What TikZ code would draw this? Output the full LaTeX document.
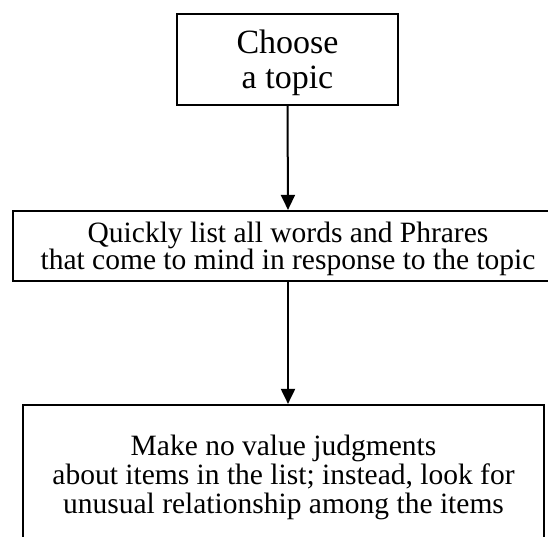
\documentclass[tikz,border=0pt]{standalone}
\usepackage{fontspec}
\setmainfont{Liberation Serif}
\usetikzlibrary{arrows.meta}

\begin{document}
\begin{tikzpicture}[x=1pt,y=-1pt,
		stepbox/.style={draw, line width=2.2pt, align=center, inner sep=0pt, text depth=0pt},
		flowarrow/.style={-{Triangle[length=15pt,width=14pt]}, line width=2pt}]
		\useasboundingbox (0,0) rectangle (548,536);
		\node[stepbox, minimum width=221pt, minimum height=91pt, font=\fontsize{34}{35}\selectfont] (topic) at (287.5,59.5) {Choose\\a topic};
		\node[stepbox, minimum width=550pt, minimum height=70pt, font=\fontsize{29.5}{27}\selectfont] (list) at (288,246) {Quickly list all words and Phrares\\that come to mind in response to the topic};
		\node[stepbox, minimum width=521pt, minimum height=137.6pt, font=\fontsize{29.5}{29}\selectfont] (judge) at (283.5,473.8) {Make no value judgments\\about items in the list; instead, look for\\unusual relationship among the items};
		\draw[flowarrow] (topic.south) -- (list.north);
		\draw[flowarrow] (list.south) -- (list.south |- judge.north);
		\end{tikzpicture}
\end{document}
